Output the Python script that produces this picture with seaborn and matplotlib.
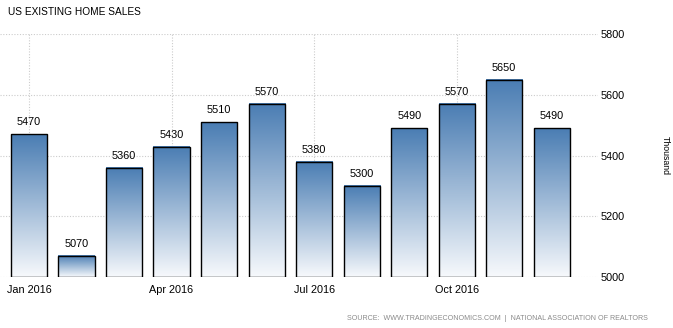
import numpy as np
import pandas as pd
import matplotlib
matplotlib.use("Agg")
import matplotlib.pyplot as plt
import seaborn as sns
from matplotlib.colors import LinearSegmentedColormap

months = ["Jan 2016", "Feb 2016", "Mar 2016", "Apr 2016", "May 2016", "Jun 2016",
          "Jul 2016", "Aug 2016", "Sep 2016", "Oct 2016", "Nov 2016", "Dec 2016"]
sales = [5470, 5070, 5360, 5430, 5510, 5570, 5380, 5300, 5490, 5570, 5650, 5490]
tick_months = ["Jan 2016", "Apr 2016", "Jul 2016", "Oct 2016"]
yticks = [5000, 5200, 5400, 5600, 5800]
base = 5000

df = pd.DataFrame({"month": months, "sales": sales})

sns.set_style("white")
plt.rcParams["font.family"] = ["Liberation Sans", "DejaVu Sans"]

fig = plt.figure(figsize=(6.73, 3.28), dpi=100)
ax = fig.add_axes([0.0, 0.155, 0.889, 0.741])

sns.barplot(data=df, x="month", y="sales", ax=ax, width=0.76,
            color="#4a7db3", edgecolor="black", linewidth=1.0, zorder=3)

cmap = LinearSegmentedColormap.from_list("g", ["#f7f9fc", "#4a7db3"])
grad = np.linspace(0, 1, 256).reshape(-1, 1)
for p in list(ax.patches):
    x0, w = p.get_x(), p.get_width()
    top = p.get_y() + p.get_height()
    p.set_y(base)
    p.set_height(top - base)
    p.set_facecolor("none")
    p.set_joinstyle("miter")
    ax.imshow(grad, cmap=cmap, aspect="auto", origin="lower",
              extent=[x0, x0 + w, base, top], zorder=2)
    ax.annotate(f"{int(round(top))}", (x0 + w / 2, top),
                xytext=(0, 5), textcoords="offset points",
                ha="center", va="bottom", fontsize=7.8, color="#000000")
ax.set_xlim(-0.61, 11.98)
ax.set_ylim(5000, 5800)

ax.yaxis.tick_right()
ax.set_yticks(yticks)
ax.set_yticklabels([str(v) for v in yticks], fontsize=7.8, color="#000000")
tick_pos = [months.index(m) for m in tick_months]
ax.set_xticks(tick_pos)
ax.set_xticklabels(tick_months, fontsize=7.8, color="#000000")
ax.grid(True, axis="both", linestyle=(0, (1, 1.5)), color="#cccccc", linewidth=0.8, zorder=0)
ax.set_axisbelow(True)
ax.tick_params(axis="y", length=0, pad=2)
ax.tick_params(axis="x", length=4, color="#cccccc", pad=2)
for s in ax.spines.values():
    s.set_visible(False)
ax.set_xlabel("")
ax.set_ylabel("Thousand", rotation=270, fontsize=6.3, color="#000000")
ax.yaxis.set_label_position("right")
ax.yaxis.set_label_coords(1.12, 0.5)

fig.text(0.012, 0.963, "US EXISTING HOME SALES", fontsize=7.3, color="#000000",
         ha="left", va="center")
fig.text(0.963, 0.03, "SOURCE:  WWW.TRADINGECONOMICS.COM  |  NATIONAL ASSOCIATION OF REALTORS",
         fontsize=5.1, color="#8a8a8a", ha="right", va="center")

fig.savefig("out.png", dpi=100)
